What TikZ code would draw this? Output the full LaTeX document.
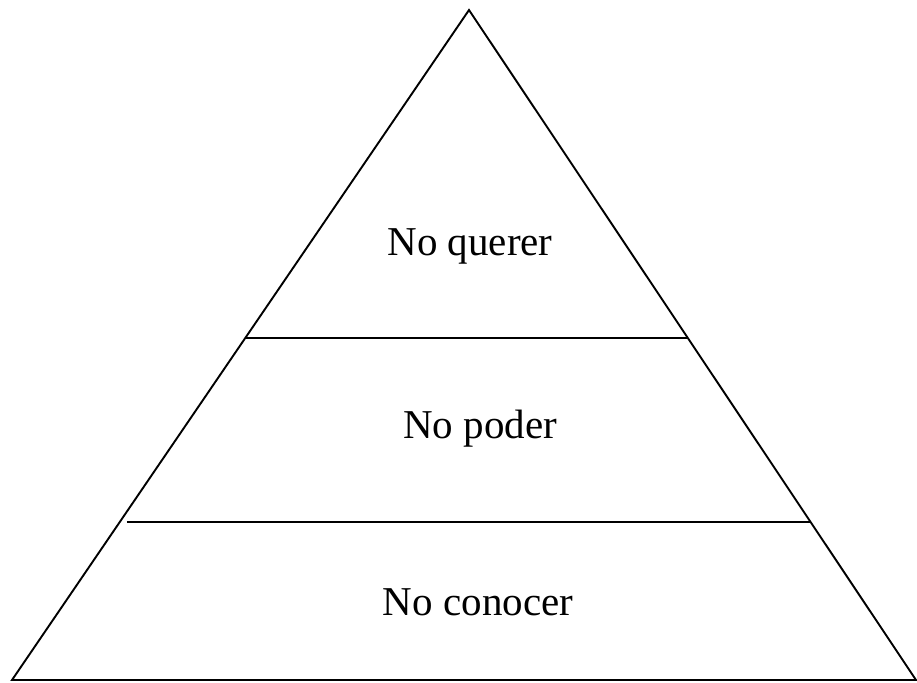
\documentclass[tikz,border=0pt]{standalone}
\usepackage{fontspec}
\setmainfont{Liberation Serif}
\usetikzlibrary{calc}

\begin{document}
\begin{tikzpicture}[
  x=1pt,y=-1pt,
  line/.style={draw=black,line width=1.9pt,line join=miter},
  layerlab/.style={font=\fontsize{41}{49}\selectfont,black,inner sep=0pt,anchor=base}
]

% ---------------- page frame ----------------
\useasboundingbox (0,0) rectangle (917,682);

% ---------------- geometry ----------------
\def\yTop{10}
\def\yBase{680}
\def\yCutA{338}
\def\yCutB{522}

\coordinate (apex) at (469,\yTop);
\coordinate (bl) at (12,\yBase);
\coordinate (br) at (916,\yBase);

% ---------------- pyramid outline ----------------
\draw[line] (bl) -- (apex) -- (br) -- cycle;

% ---------------- layer cuts ----------------
\coordinate (cutAl) at ($(apex)!{(\yCutA-\yTop)/(\yBase-\yTop)}!(bl)$);
\coordinate (cutAr) at ($(apex)!{(\yCutA-\yTop)/(\yBase-\yTop)}!(br)$);
\coordinate (cutBl) at ($(apex)!{(\yCutB-\yTop)/(\yBase-\yTop)}!(bl)+(7,0)$);
\coordinate (cutBr) at ($(apex)!{(\yCutB-\yTop)/(\yBase-\yTop)}!(br)$);

\draw[line] (cutAl) -- (cutAr);
\draw[line] (cutBl) -- (cutBr);

% ---------------- layer labels ----------------
\node[layerlab] (querer) at (470,255) {No querer};
\node[layerlab] (poder) at (480,438) {No poder};
\node[layerlab] (conocer) at (478,615) {No conocer};

\end{tikzpicture}
\end{document}
